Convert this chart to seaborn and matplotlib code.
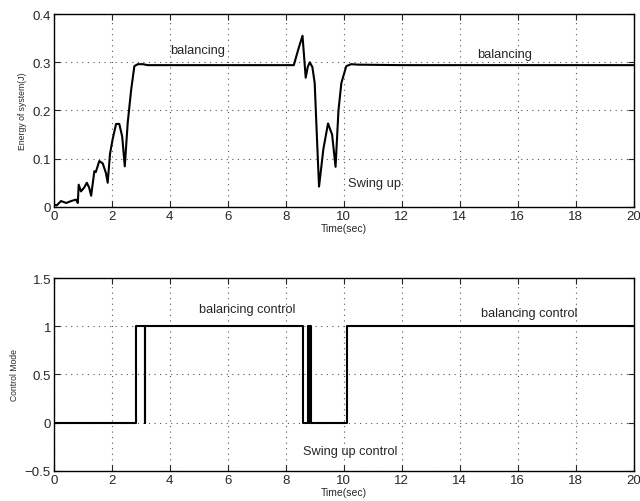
import numpy as np
import pandas as pd
import seaborn as sns
import matplotlib.pyplot as plt

# energy of the system
t_energy = [0, 0.1, 0.25, 0.43, 0.6, 0.77, 0.83, 0.86, 0.94, 1.05, 1.14, 1.22, 1.29, 1.4, 1.45,
            1.57, 1.69, 1.8, 1.86, 1.94, 2.03, 2.15, 2.26, 2.36, 2.45, 2.55, 2.67, 2.78, 2.9,
            3.07, 3.24, 4.0, 6.0, 8.0, 8.28, 8.45, 8.58, 8.69, 8.76, 8.83, 8.92, 9.0, 9.08,
            9.15, 9.3, 9.46, 9.6, 9.72, 9.82, 9.92, 10.09, 10.26, 10.5, 12.0, 16.0, 20.0]
energy = [0.005, 0.003, 0.012, 0.008, 0.012, 0.015, 0.008, 0.046, 0.032, 0.04, 0.05, 0.04,
          0.023, 0.074, 0.072, 0.095, 0.09, 0.07, 0.05, 0.11, 0.14, 0.172, 0.172, 0.146,
          0.084, 0.174, 0.243, 0.292, 0.296, 0.296, 0.294, 0.294, 0.294, 0.294, 0.294,
          0.33, 0.355, 0.268, 0.29, 0.3, 0.29, 0.257, 0.14, 0.042, 0.12, 0.173, 0.15,
          0.083, 0.2, 0.257, 0.292, 0.296, 0.295, 0.294, 0.294, 0.294]

# control mode switching (0 = swing up, 1 = balancing)
t_mode = [0, 2.82, 3.14, 3.16, 8.6, 8.76, 8.8, 8.82, 8.87, 10.1, 20]
mode = [0, 1, 0, 1, 0, 1, 0, 1, 0, 1, 1]

sns.set_style("ticks")
plt.rcParams['font.family'] = ['Liberation Sans', 'DejaVu Sans']

fig = plt.figure(figsize=(6.4, 5.02), dpi=100)
ax1 = fig.add_axes([0.084, 0.586, 0.906, 0.384])
ax2 = fig.add_axes([0.084, 0.060, 0.906, 0.384])

df_e = pd.DataFrame({'t': t_energy, 'E': energy})
sns.lineplot(data=df_e, x='t', y='E', ax=ax1, color='black', linewidth=1.5,
             estimator=None, sort=False)

df_m = pd.DataFrame({'t': t_mode, 'mode': mode})
sns.lineplot(data=df_m, x='t', y='mode', ax=ax2, color='black', linewidth=1.5,
             estimator=None, sort=False, drawstyle='steps-post')

for ax in (ax1, ax2):
    ax.set_xlim(0, 20)
    ax.set_xticks(range(0, 21, 2))
    ax.grid(True, linestyle=(0, (1, 4)), color='#555555', linewidth=0.8)
    ax.tick_params(direction='in', top=True, right=True, labelsize=9.5, length=4, pad=2)
    for s in ax.spines.values():
        s.set_linewidth(1.0)
        s.set_color('black')
    ax.set_xlabel('Time(sec)', fontsize=7.5, labelpad=1)

ax1.set_ylim(0, 0.4)
ax1.set_yticks([0, 0.1, 0.2, 0.3, 0.4])
ax1.set_yticklabels(['0', '0.1', '0.2', '0.3', '0.4'])
ax1.set_ylabel('Energy of system(J)', fontsize=6.2, labelpad=4)
ax1.text(4.0, 0.326, 'balancing', fontsize=9.3, va='center')
ax1.text(14.6, 0.317, 'balancing', fontsize=9.3, va='center')
ax1.text(10.15, 0.05, 'Swing up', fontsize=9.3, va='center')

ax2.set_ylim(-0.5, 1.5)
ax2.set_yticks([-0.5, 0, 0.5, 1, 1.5])
ax2.set_yticklabels(['\u22120.5', '0', '0.5', '1', '1.5'])
ax2.set_ylabel('Control Mode', fontsize=6.2, labelpad=4)
ax2.text(5.0, 1.18, 'balancing control', fontsize=9.2, va='center')
ax2.text(14.75, 1.14, 'balancing control', fontsize=9.2, va='center')
ax2.text(8.6, -0.29, 'Swing up control', fontsize=9.2, va='center')

fig.savefig('out.png', dpi=100)
